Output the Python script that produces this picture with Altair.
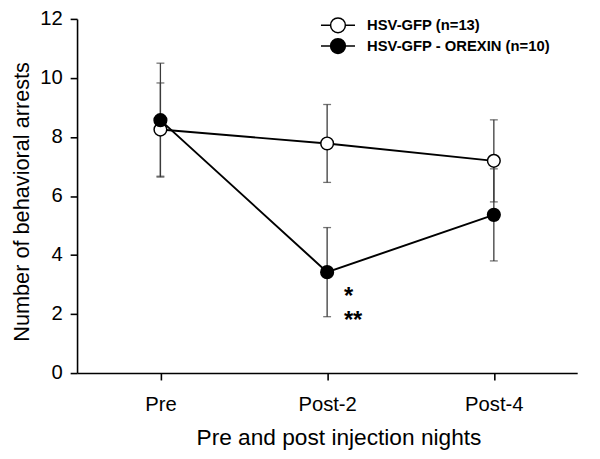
import altair as alt
import pandas as pd

nights = ["Pre", "Post-2", "Post-4"]
groups = ["HSV-GFP (n=13)", "HSV-GFP - OREXIN (n=10)"]
gfp_mean = [8.25, 7.78, 7.19]
gfp_err = [1.58, 1.32, 1.39]
orx_mean = [8.57, 3.42, 5.36]
orx_err = [1.93, 1.51, 1.56]
stars = ["*", "**"]

rows = []
for g, means, errs in [(groups[0], gfp_mean, gfp_err), (groups[1], orx_mean, orx_err)]:
    for i, n in enumerate(nights):
        rows.append({"night": n, "group": g, "mean": means[i],
                     "lo": means[i] - errs[i], "hi": means[i] + errs[i],
                     "order": groups.index(g)})
df = pd.DataFrame(rows)

FONT = "Liberation Sans"

x = alt.X("night:N", sort=nights,
          scale=alt.Scale(type="point", padding=0.5),
          axis=alt.Axis(title="Pre and post injection nights", labelAngle=0,
                        titleX=265, titleY=72, titleBaseline="alphabetic"))
yscale = alt.Scale(domain=[0, 12])
y = alt.Y("mean:Q", scale=yscale,
          axis=alt.Axis(title="Number of behavioral arrests", values=[0, 2, 4, 6, 8, 10, 12],
                        titleX=-49, titleY=185, titleAngle=-90, titleAlign="center",
                        titleBaseline="alphabetic", titleFontSize=22))

base = alt.Chart(df)

err_rule = base.mark_rule(color="#3a3a3a", strokeWidth=1.3).encode(
    x=x, y=alt.Y("lo:Q", scale=yscale), y2="hi:Q")
cap_lo = base.mark_tick(color="#3a3a3a", thickness=1.3, size=8).encode(
    x=x, y=alt.Y("lo:Q", scale=yscale))
cap_hi = base.mark_tick(color="#3a3a3a", thickness=1.3, size=8).encode(
    x=x, y=alt.Y("hi:Q", scale=yscale))

lines = base.mark_line(color="black", strokeWidth=2).encode(
    x=x, y=y, detail="group:N")

legend_path = "M-2.3,0L-1,0A1,1,0,1,1,1,0A1,1,0,1,1,-1,0M1,0L2.3,0"

points = base.mark_point(filled=True, stroke="black", strokeWidth=1.5, size=165, opacity=1).encode(
    x=x, y=y,
    fill=alt.Fill("group:N", sort=groups,
                  scale=alt.Scale(domain=groups, range=["white", "black"]),
                  legend=alt.Legend(title=None, orient="none", legendX=256, legendY=-2,
                                    symbolType=legend_path, symbolSize=225,
                                    symbolStrokeColor="black", symbolStrokeWidth=1.5,
                                    labelFont=FONT, labelFontSize=15, labelFontWeight="bold",
                                    labelColor="black", labelOffset=21, rowPadding=0,
                                    labelLimit=0)),
    order=alt.Order("order:Q"))

star_base = base.transform_filter(
    (alt.datum.group == groups[1]) & (alt.datum.night == "Post-2"))
star1 = star_base.mark_text(text=stars[0], dx=17, dy=32, align="left", baseline="alphabetic",
                            fontSize=24, fontWeight="bold", font=FONT, color="black").encode(x=x, y=y)
star2 = star_base.mark_text(text=stars[1], dx=17, dy=57, align="left", baseline="alphabetic",
                            fontSize=24, fontWeight="bold", font=FONT, color="black").encode(x=x, y=y)

chart = alt.layer(err_rule, cap_lo, cap_hi, lines, points, star1, star2).properties(
    width=507, height=359,
    autosize=alt.AutoSizeParams(type="none"),
    padding={"left": 70, "top": 8, "right": 15, "bottom": 80},
).configure_view(stroke=None).configure_axis(
    grid=False, domainColor="black", domainWidth=1.6, tickColor="black", tickWidth=1.6,
    tickSize=7, labelFont=FONT, labelFontSize=20.5, labelColor="black",
    titleFont=FONT, titleFontSize=23, titleFontWeight="normal", titleColor="black",
).configure_axisX(labelPadding=15).configure_axisY(labelPadding=8)

chart.save("out.html", embed_options={"renderer": "svg", "actions": False})
